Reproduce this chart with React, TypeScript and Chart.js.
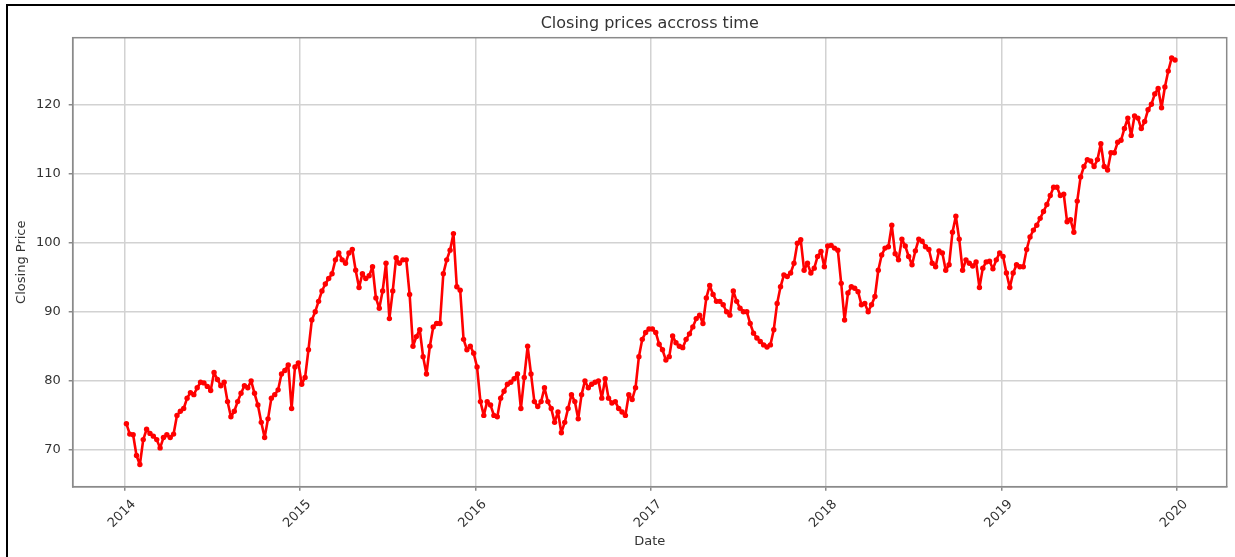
import { useEffect, useRef } from "react";
import { Chart, registerables } from "chart.js";

Chart.register(...registerables);

// Weekly closing prices (52 weeks per year)
const years = [2014, 2015, 2016, 2017, 2018, 2019];

const close2014 = [
  73.8, 72.3, 72.2, 69.2, 67.9, 71.5, 73.0, 72.4, 72.0, 71.5,
  70.3, 71.8, 72.2, 71.8, 72.3, 75.0, 75.6, 76.0, 77.5, 78.3,
  78.0, 79.0, 79.8, 79.7, 79.2, 78.6, 81.2, 80.2, 79.3, 79.8,
  77.0, 74.8, 75.6, 77.0, 78.2, 79.3, 79.0, 80.0, 78.2, 76.5,
  74.0, 71.8, 74.5, 77.5, 78.0, 78.7, 81.0, 81.5, 82.3, 76.0,
  82.0, 82.6,
];

const close2015 = [
  79.5, 80.5, 84.5, 88.8, 90.0, 91.5, 93.0, 94.0, 94.8, 95.5,
  97.5, 98.5, 97.5, 97.0, 98.5, 99.0, 96.0, 93.5, 95.5, 94.8,
  95.2, 96.5, 92.0, 90.5, 93.0, 97.0, 89.0, 93.0, 97.8, 97.0,
  97.5, 97.5, 92.5, 85.0, 86.4, 87.4, 83.5, 81.0, 85.0, 87.8,
  88.3, 88.3, 95.5, 97.5, 98.9, 101.3, 93.6, 93.1, 86.0, 84.5,
  85.0, 84.0,
];

const close2016 = [
  82.0, 77.0, 75.0, 77.0, 76.5, 75.0, 74.8, 77.5, 78.5, 79.5,
  79.8, 80.3, 81.0, 76.0, 80.5, 85.0, 81.0, 77.0, 76.3, 77.0,
  79.0, 77.0, 76.0, 74.0, 75.5, 72.5, 74.0, 76.0, 78.0, 77.0,
  74.5, 78.0, 80.0, 79.0, 79.5, 79.8, 80.0, 77.5, 80.3, 77.5,
  76.8, 77.0, 76.0, 75.5, 75.0, 78.0, 77.3, 79.0, 83.5, 86.0,
  87.0, 87.5,
];

const close2017 = [
  87.5, 87.0, 85.3, 84.5, 83.0, 83.5, 86.5, 85.5, 85.0, 84.8,
  86.0, 86.8, 87.8, 89.0, 89.5, 88.3, 92.0, 93.8, 92.5, 91.5,
  91.5, 91.0, 90.0, 89.5, 93.0, 91.5, 90.5, 90.0, 90.0, 88.3,
  86.9, 86.2, 85.7, 85.2, 84.9, 85.2, 87.4, 91.2, 93.6, 95.3,
  95.1, 95.6, 97.0, 99.9, 100.4, 96.0, 97.0, 95.6, 96.3, 98.0,
  98.7, 96.5,
];

const close2018 = [
  99.5, 99.6, 99.2, 98.9, 94.1, 88.8, 92.7, 93.6, 93.4, 92.9,
  91.0, 91.2, 90.0, 91.0, 92.2, 96.0, 98.2, 99.2, 99.4, 102.5,
  98.4, 97.5, 100.5, 99.5, 98.0, 96.8, 98.8, 100.5, 100.2, 99.4,
  99.0, 97.0, 96.5, 98.8, 98.5, 96.0, 96.8, 101.5, 103.8, 100.5,
  96.0, 97.5, 97.0, 96.6, 97.2, 93.5, 96.3, 97.2, 97.3, 96.2,
  97.5, 98.5,
];

const close2019 = [
  98.0, 95.6, 93.5, 95.6, 96.8, 96.5, 96.5, 99.0, 100.8, 101.8,
  102.5, 103.5, 104.5, 105.5, 106.8, 108.0, 108.0, 106.8, 107.0, 103.0,
  103.3, 101.5, 106.0, 109.5, 111.0, 112.0, 111.8, 111.0, 112.0, 114.3,
  111.0, 110.5, 113.0, 113.0, 114.5, 114.8, 116.5, 118.0, 115.5, 118.3,
  118.0, 116.5, 117.5, 119.2, 120.0, 121.5, 122.3, 119.5, 122.5, 124.8,
  126.7, 126.4,
];

const yTicks = [70, 80, 90, 100, 110, 120];
const xTicks = [2014, 2015, 2016, 2017, 2018, 2019, 2020];

const chartTitle = "Closing prices accross time";
const xLabel = "Date";
const yLabel = "Closing Price";

const FONT = "'DejaVu Sans', sans-serif";
const TEXT = "#333333";
const GRID = "#d2d2d2";
const SPINE = "#8a8a8a";
const RED = "#ff0000";

export default function App() {
  const ref = useRef<HTMLCanvasElement | null>(null);

  useEffect(() => {
    document.body.style.margin = "0";
    const series = [close2014, close2015, close2016, close2017, close2018, close2019];
    const points = years.flatMap((yr, k) =>
      series[k].map((v, i) => ({ x: yr + (i + 0.5) / 52, y: v }))
    );

    const frame = {
      id: "frame",
      afterDatasetsDraw(chart: any) {
        const { ctx, chartArea: a } = chart;
        ctx.save();
        ctx.strokeStyle = SPINE;
        ctx.lineWidth = 1.5;
        ctx.strokeRect(a.left, a.top, a.right - a.left, a.bottom - a.top);
        ctx.restore();
      },
    };

    const chart = new Chart(ref.current as HTMLCanvasElement, {
      type: "line",
      data: {
        datasets: [
          {
            data: points,
            borderColor: RED,
            backgroundColor: RED,
            borderWidth: 2.6,
            borderJoinStyle: "round",
            borderCapStyle: "round",
            pointRadius: 2.7,
            pointBorderWidth: 0,
            pointBackgroundColor: RED,
            tension: 0,
          },
        ],
      },
      options: {
        animation: false,
        responsive: false,
        events: [],
        layout: { padding: { left: 0, top: 0, right: 8.3, bottom: 0 } },
        plugins: {
          legend: { display: false },
          tooltip: { enabled: false },
          title: {
            display: true,
            text: chartTitle,
            fullSize: false,
            color: TEXT,
            font: { family: FONT, size: 16, weight: "normal" },
            padding: { top: 13.9, bottom: 4.6 },
          },
        },
        scales: {
          x: {
            type: "linear",
            min: 2013.7034,
            max: 2020.2852,
            afterBuildTicks: (s: any) => {
              s.ticks = xTicks.map((v) => ({ value: v }));
            },
            afterFit: (s: any) => {
              s.height = 70.3;
            },
            ticks: {
              minRotation: 45,
              maxRotation: 45,
              labelOffset: 9,
              padding: 6,
              color: TEXT,
              font: { family: FONT, size: 13 },
              callback: (v: any) => String(v),
            },
            grid: {
              color: GRID,
              lineWidth: 1.5,
              tickLength: 4,
              tickColor: SPINE,
              tickWidth: 1.5,
            },
            border: { display: true, color: SPINE, width: 1.5 },
            title: {
              display: true,
              text: xLabel,
              color: TEXT,
              font: { family: FONT, size: 13 },
              padding: { top: 0, bottom: 7.7 },
            },
          },
          y: {
            type: "linear",
            min: 64.69,
            max: 129.63,
            afterBuildTicks: (s: any) => {
              s.ticks = yTicks.map((v) => ({ value: v }));
            },
            afterFit: (s: any) => {
              s.width = 72.7;
            },
            ticks: {
              padding: 8,
              color: TEXT,
              font: { family: FONT, size: 13 },
              callback: (v: any) => String(v),
            },
            grid: {
              color: GRID,
              lineWidth: 1.5,
              tickLength: 4,
              tickColor: SPINE,
              tickWidth: 1.5,
            },
            border: { display: true, color: SPINE, width: 1.5 },
            title: {
              display: true,
              text: yLabel,
              color: TEXT,
              font: { family: FONT, size: 13 },
              padding: { top: 14, bottom: 0 },
            },
          },
        },
      },
      plugins: [frame],
    } as any);

    return () => chart.destroy();
  }, []);

  return (
    <div
      style={{
        position: "relative",
        width: 1235,
        height: 557,
        overflow: "hidden",
        background: "#ffffff",
      }}
    >
      <canvas
        ref={ref}
        width={1235}
        height={557}
        style={{ position: "absolute", left: 0, top: 0, width: 1235, height: 557 }}
      />
      <div
        style={{
          position: "absolute",
          left: 6,
          top: 4,
          right: -10,
          bottom: -10,
          borderLeft: "2px solid #000",
          borderTop: "2px solid #000",
          pointerEvents: "none",
        }}
      />
    </div>
  );
}
